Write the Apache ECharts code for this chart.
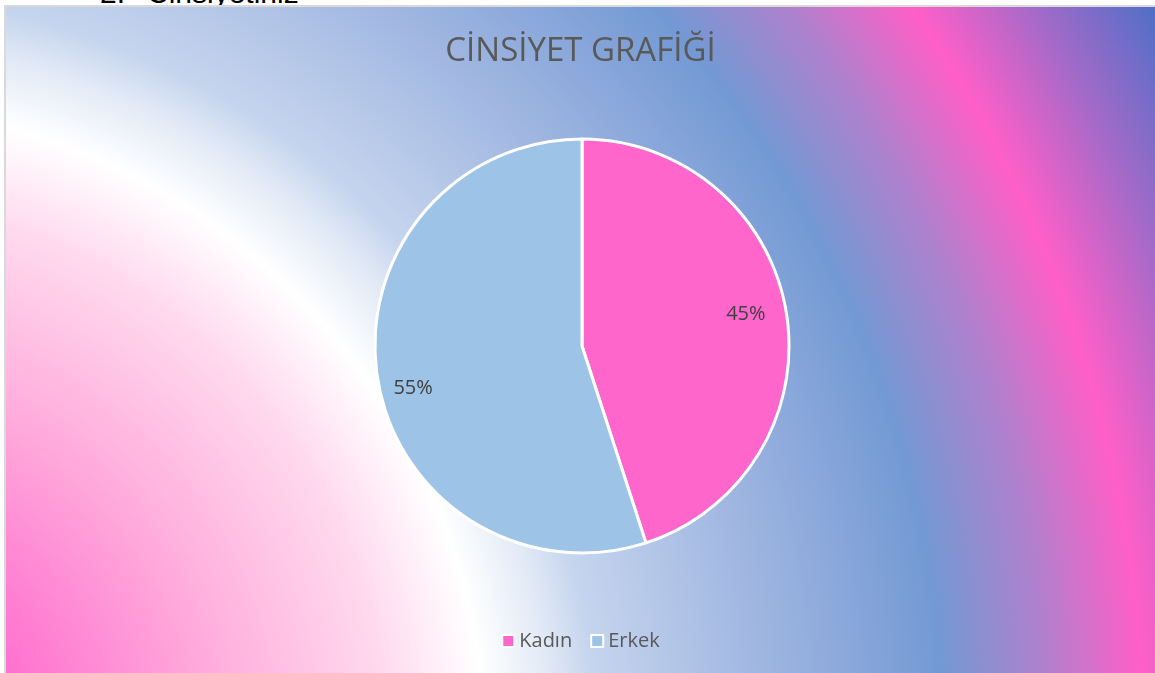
<!DOCTYPE html>
<html>
<head>
<meta charset="utf-8">
<script src="https://cdn.jsdelivr.net/npm/echarts@6/dist/echarts.min.js"></script>
<style>
  html, body { margin: 0; padding: 0; background: #fff; overflow: hidden; }
  .question {
    position: absolute; top: -24px;
    font-family: "Liberation Sans", sans-serif; font-size: 30px; color: #000;
  }
  #frame {
    position: absolute; left: 4px; top: 5px;
    border-left: 2px solid #d9d9d9; border-top: 2px solid #d9d9d9;
  }
  #chart { width: 1149px; height: 666px; }
</style>
</head>
<body>
<div class="question" style="left:100px">2.</div>
<div class="question" style="left:147px">Cinsiyetiniz</div>
<div id="frame"><div id="chart"></div></div>
<script>
const categories = ['Kadın', 'Erkek'];
const shares = [45, 55];
const sliceColors = ['#ff66cc', '#9dc3e6'];
const chartTitle = 'CİNSİYET GRAFİĞİ';

const FONT = '"Open Sans", "Noto Sans", sans-serif';

// nudges so the percentages sit where the original put them
const labelOffsets = [[-7, -5], [2, 15]];

const pieData = categories.map((name, i) => ({
    name,
    value: shares[i],
    itemStyle: { color: sliceColors[i] }
}));

const labelData = categories.map((name, i) => ({
    name,
    value: shares[i],
    label: { offset: labelOffsets[i] }
}));

const chart = echarts.init(document.getElementById('chart'));

chart.setOption({
    // radial fill from beyond the bottom-left corner
    backgroundColor: {
        type: 'radial',
        x: -167, y: 744, r: 1512,
        global: true,
        colorStops: [
            { offset: 0, color: '#ff66cc' },
            { offset: 0.12, color: '#ff70cf' },
            { offset: 0.26, color: '#ffb0dd' },
            { offset: 0.36, color: '#ffd8ee' },
            { offset: 0.427, color: '#ffffff' },
            { offset: 0.47, color: '#e2eaf6' },
            { offset: 0.5, color: '#c6d5ee' },
            { offset: 0.62, color: '#9db4e0' },
            { offset: 0.731, color: '#7399d4' },
            { offset: 0.8, color: '#b080cc' },
            { offset: 0.863, color: '#ff5fc8' },
            { offset: 0.93, color: '#a46ac8' },
            { offset: 1, color: '#4f6fc8' }
        ]
    },
    title: {
        text: chartTitle,
        left: 'center',
        top: 25,
        padding: 0,
        textStyle: { fontFamily: FONT, fontSize: 33, fontWeight: 'normal', color: '#595959', lineHeight: 40 }
    },
    legend: {
        data: categories,
        bottom: 15,
        left: 'center',
        icon: 'rect',
        itemWidth: 12,
        itemHeight: 12,
        itemGap: 18,
        itemStyle: { borderColor: '#fff', borderWidth: 2 },
        textStyle: { fontFamily: FONT, fontSize: 20, color: '#595959', lineHeight: 24 }
    },
    series: [
        {
            type: 'pie',
            center: [576, 339],
            radius: [0, 207],
            startAngle: 90,
            clockwise: true,
            silent: true,
            label: { show: false },
            labelLine: { show: false },
            itemStyle: { borderColor: '#fff', borderWidth: 3 },
            data: pieData
        },
        {
            // label-only ring so the percentages sit near the rim
            type: 'pie',
            center: [576, 339],
            radius: [0, 340],
            startAngle: 90,
            clockwise: true,
            silent: true,
            percentPrecision: 0,
            itemStyle: { color: 'rgba(0,0,0,0)', borderWidth: 0 },
            label: {
                show: true,
                position: 'inside',
                formatter: '{d}%',
                fontFamily: FONT,
                fontSize: 20,
                color: '#404040'
            },
            labelLine: { show: false },
            data: labelData
        }
    ]
});
</script>
</body>
</html>
